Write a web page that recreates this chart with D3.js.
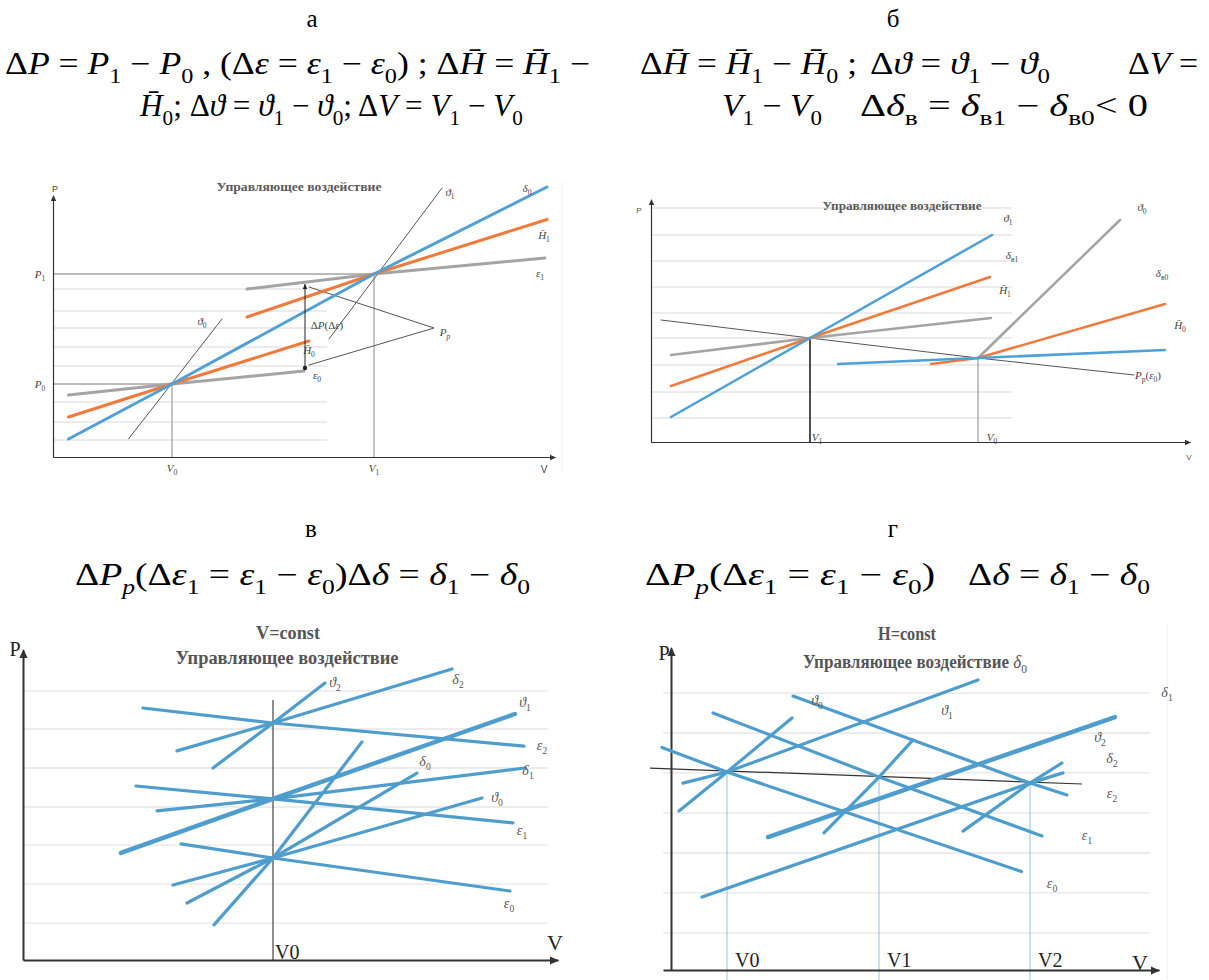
<!DOCTYPE html>
<html>
<head>
<meta charset="utf-8">
<script src="https://cdnjs.cloudflare.com/ajax/libs/d3/7.8.5/d3.min.js"></script>
<style>
  body { margin: 0; background: #fff; }
</style>
</head>
<body>
<svg id="fig" width="1209" height="980"></svg>
<script>
// All values are in relative units: V and P run 0..100 along each panel's axes.

// ---- panel а
const aGrid = [67.2, 58.4, 51.6, 44, 36.4, 22, 14, 6.8];
const aV = [23.8, 64.2];   // V0, V1
const aP = [29.2, 73.2];   // P0, P1
const aLines = [
    {kind: 'thin', pts: [[15.1, 7.2], [33.8, 55.2]]},
    {kind: 'thin', pts: [[55.2, 47.2], [77.8, 107.6]]},
    {kind: 'thin', pts: [[51.2, 68], [76.2, 51.6], [51.2, 36.8]]},
    {kind: 'gray', pts: [[3.1, 24.8], [23.8, 29.2], [50.2, 34.4]]},
    {kind: 'gray', pts: [[38.8, 67.2], [64.2, 73.2], [98.4, 79.6]]},
    {kind: 'orange', pts: [[3.1, 16], [23.8, 29.2], [51.2, 46.4]]},
    {kind: 'orange', pts: [[38.8, 56], [64.2, 73.2], [98.8, 95]]},
    {kind: 'blue', pts: [[3.1, 7.2], [23.8, 29.2], [64.2, 73.2], [98.8, 108]]}
];
const aDeltaP = [50.4, 35.6, 69.2];   // V, P from, P to
const aLabels = [
    {t: '*δ*_0', v: 94.8, p: 107.6}, {t: '*ϑ*_1', v: 79.4, p: 106},
    {t: '*H̄*_1', v: 98.2, p: 88.8}, {t: '*ε*_1', v: 97.4, p: 73.6},
    {t: '*ϑ*_0', v: 29.8, p: 54.4}, {t: 'Δ*P*(Δ*ε*)', v: 54.8, p: 52.8},
    {t: '*P*_{*p*}', v: 78.4, p: 50}, {t: '*H̄*_0', v: 51.2, p: 42.8},
    {t: '*ε*_0', v: 52.8, p: 32.8}, {t: '*P*_1', v: -2.6, p: 73.2},
    {t: '*P*_0', v: -2.6, p: 29.2}, {t: '*V*_0', v: 23.8, p: -4.6},
    {t: '*V*_1', v: 64.2, p: -4.6}
];

// ---- panel б
const bGrid = [93.6, 82.8, 72.4, 62, 51.6, 41.6, 30.8, 20, 9.6];
const bV = [31.8, 65.4];   // V1, V0
const bP = [41.6, 33.6];
const bLines = [
    {kind: 'thin', pts: [[2, 48.8], [31.8, 41.6], [65.4, 33.6], [96.6, 26.8]]},
    {kind: 'gray', pts: [[4, 34.8], [31.8, 41.6], [68, 49.6]]},
    {kind: 'gray', pts: [[65.4, 33.6], [93.8, 88.8]]},
    {kind: 'orange', pts: [[4, 22.4], [31.8, 41.6], [67.8, 66]]},
    {kind: 'orange', pts: [[56, 31.2], [65.4, 33.6], [102.8, 55.2]]},
    {kind: 'blue', pts: [[4, 10], [31.8, 41.6], [68.2, 82.8]]},
    {kind: 'blue', pts: [[37.4, 31.2], [65.4, 33.6], [102.8, 36.8]]}
];
const bLabels = [
    {t: '*ϑ*_1', v: 71.4, p: 89.6}, {t: '*δ*_{в1}', v: 72.2, p: 74.8},
    {t: '*H̄*_1', v: 70.8, p: 60.8}, {t: '*ϑ*_0', v: 98.2, p: 94},
    {t: '*δ*_{в0}', v: 102.2, p: 67.6}, {t: '*H̄*_0', v: 105.8, p: 46.8},
    {t: '*P*_p(*ε*_0)', v: 96.8, p: 26.8, anchor: 'start'},
    {t: '*V*_1', v: 33.2, p: 2}, {t: '*V*_0', v: 68.2, p: 2}
];

// ---- panel в
const cGrid = [89.7, 77, 64, 51, 38.3, 25.3, 12.3];
const cV0 = 50;
const cLines = [
    {kind: 'b', pts: [[24, 84], [50, 79], [100.2, 71.3]]},
    {kind: 'b', pts: [[30.8, 69.7], [50, 79], [85.8, 97]]},
    {kind: 'b', pts: [[38, 64], [50, 79], [60.4, 92.3]]},
    {kind: 'b', pts: [[22.6, 58], [50, 53.7], [98, 45.7]]},
    {kind: 'b', pts: [[26.8, 49.7], [50, 53.7], [100.4, 64]]},
    {kind: 'bt', pts: [[19.6, 35.7], [50, 53.7], [98.4, 82]]},
    {kind: 'b', pts: [[31.6, 38.7], [50, 34], [97.4, 23]]},
    {kind: 'b', pts: [[30, 25], [50, 34], [91.8, 54]]},
    {kind: 'b', pts: [[32.8, 19], [50, 34], [78.8, 62.3]]},
    {kind: 'b', pts: [[38.2, 11.7], [50, 34], [67.8, 72.7]]}
];
const cLabels = [
    {t: '*ϑ*_2', v: 62.4, p: 92.7}, {t: '*δ*_2', v: 87, p: 93.7},
    {t: '*ϑ*_1', v: 100.4, p: 86}, {t: '*ε*_2', v: 103.8, p: 71.7},
    {t: '*δ*_1', v: 101, p: 63.3}, {t: '*δ*_0', v: 80.4, p: 66.3},
    {t: '*ϑ*_0', v: 94.8, p: 54.3}, {t: '*ε*_1', v: 99.8, p: 43.3},
    {t: '*ε*_0', v: 97.2, p: 19}
];

// ---- panel г
const dGrid = [92.3, 79, 65.7, 52.3, 39, 25.7, 12.3];
const dV = [11.2, 41.6, 71.8];
const dP = [66, 64.3, 62.3];
const dBase = [[-4.2, 67.3], [82.2, 62]];
const dLines = [
    {kind: 'b', pts: [[24.4, 91.3], [71.8, 62.3], [79.2, 58.3]]},
    {kind: 'b', pts: [[2.4, 62.3], [11.2, 66], [61.4, 96.7]]},
    {kind: 'b', pts: [[8.4, 85.7], [41.6, 64.3], [74.2, 44.7]]},
    {kind: 'b', pts: [[-1.8, 74.2], [11.2, 66], [70.1, 32.8]]},
    {kind: 'bt', pts: [[19.4, 44.3], [88.8, 84.3]]},
    {kind: 'b', pts: [[6.2, 24.3], [71.8, 62.3], [78.4, 65.7]]},
    {kind: 'b', pts: [[1.6, 53], [11.2, 66], [24.2, 84]]},
    {kind: 'b', pts: [[30.6, 45.7], [41.6, 64.3], [48.4, 76.7]]},
    {kind: 'b', pts: [[58.4, 46.3], [71.8, 62.3], [78.2, 69]]}
];
const dLabels = [
    {t: '*δ*_1', v: 99.2, p: 92.7}, {t: '*ϑ*_0', v: 29.2, p: 90},
    {t: '*ϑ*_1', v: 55.2, p: 86.7}, {t: '*ϑ*_2', v: 85.8, p: 77.7},
    {t: '*δ*_2', v: 88.2, p: 70.7}, {t: '*ε*_2', v: 88.2, p: 59},
    {t: '*ε*_1', v: 83.2, p: 45}, {t: '*ε*_0', v: 76.2, p: 29}
];
const dVNames = ['V0', 'V1', 'V2'];

const kinds = {
    thin: {c: '#555', w: 1},
    gray: {c: '#a4a4a4', w: 3},
    orange: {c: '#f07a3c', w: 3},
    blue: {c: '#4ea0d6', w: 3},
    b: {c: '#4e9dcc', w: 3.2},
    bt: {c: '#4e9dcc', w: 4.4}
};

const serif = "'Liberation Serif', 'DejaVu Serif', serif";
const svg = d3.select('#fig');

// small markup: *x* italic, _1 or _{..} subscript
function rich(t, str, fs) {
    const toks = [];
    let it = false, buf = '', i = 0;
    const flush = () => { if (buf) toks.push({s: buf, it: it, sub: false}); buf = ''; };
    while (i < str.length) {
        const ch = str[i];
        if (ch === '*') { flush(); it = !it; i++; }
        else if (ch === '_') {
            flush();
            let s;
            if (str[i + 1] === '{') { const j = str.indexOf('}', i); s = str.slice(i + 2, j); i = j + 1; }
            else { s = str[i + 1]; i += 2; }
            toks.push({s: s.replace(/\*/g, ''), it: s.startsWith('*'), sub: true});
        } else { buf += ch; i++; }
    }
    flush();
    let prev = false;
    toks.forEach(k => {
        const ts = t.append('tspan').text(k.s);
        if (k.it) ts.attr('font-style', 'italic').attr('font-weight', 'normal');
        if (k.sub) {
            ts.attr('font-size', fs * 0.68).attr('font-weight', 'normal');
            if (!prev) ts.attr('dy', fs * 0.28);
        } else if (prev) ts.attr('dy', -fs * 0.28);
        prev = k.sub;
    });
    return t;
}

function text(g, x, y, str, o) {
    const fs = o.fs || 12;
    const t = g.append('text')
        .attr('x', x).attr('y', y)
        .attr('font-family', o.family || serif)
        .attr('font-size', fs)
        .attr('font-weight', o.weight || 'normal')
        .attr('fill', o.fill || '#000')
        .attr('text-anchor', o.anchor || 'start')
        .style('white-space', 'pre');
    rich(t, str, fs);
    if (o.len) t.attr('textLength', o.len).attr('lengthAdjust', 'spacingAndGlyphs');
    return t;
}

function arrowHead(g, x, y, dir, s, c) {
    const p = dir === 'up'
        ? `M${x},${y}L${x - s * 0.45},${y + s}L${x + s * 0.45},${y + s}Z`
        : `M${x},${y}L${x - s},${y - s * 0.45}L${x - s},${y + s * 0.45}Z`;
    g.append('path').attr('d', p).attr('fill', c);
}

function axes(g, x, y, xr, yr, st) {
    const xa = d3.scaleLinear(xr, xr.map(x));
    const ya = d3.scaleLinear(yr, yr.map(y));
    g.append('g').attr('transform', `translate(0,${y(0)})`)
        .call(d3.axisBottom(xa).tickValues([]).tickSizeOuter(0))
        .call(s => s.select('.domain').attr('stroke', st.c).attr('stroke-width', st.w));
    g.append('g').attr('transform', `translate(${x(0)},0)`)
        .call(d3.axisLeft(ya).tickValues([]).tickSizeOuter(0))
        .call(s => s.select('.domain').attr('stroke', st.c).attr('stroke-width', st.w));
    arrowHead(g, x(xr[1]) + 1, y(0) + 0.5, 'right', st.a, st.c);
    arrowHead(g, x(0) + 0.5, y(yr[1]) - 1, 'up', st.a, st.c);
}

function grid(g, x, y, levels, from, to) {
    g.selectAll(null).data(levels).join('line')
        .attr('x1', x(from)).attr('x2', x(to))
        .attr('y1', d => y(d)).attr('y2', d => y(d))
        .attr('stroke', '#e6e6e6').attr('stroke-width', 1.4);
}

function lines(g, x, y, data, widthScale) {
    const line = d3.line().x(d => x(d[0])).y(d => y(d[1]));
    g.selectAll(null).data(data).join('path')
        .attr('d', d => line(d.pts))
        .attr('fill', 'none')
        .attr('stroke', d => kinds[d.kind].c)
        .attr('stroke-width', d => kinds[d.kind].w * (d.kind === 'thin' ? 1 : widthScale))
        .attr('stroke-linecap', 'round');
}

function seg(g, x1, y1, x2, y2, c, w) {
    g.append('line').attr('x1', x1).attr('y1', y1).attr('x2', x2).attr('y2', y2)
        .attr('stroke', c).attr('stroke-width', w);
}

function labels(g, x, y, data, fs, fill) {
    data.forEach(d => text(g, x(d.v), y(d.p) + fs * 0.35, d.t,
        {fs: fs, fill: fill, anchor: d.anchor || 'middle'}));
}

// ---------- headings
const head = svg.append('g');
text(head, 312, 27, 'а', {fs: 25, anchor: 'middle'});
text(head, 893, 27, 'б', {fs: 25, anchor: 'middle'});
text(head, 311, 537, 'в', {fs: 25, anchor: 'middle'});
text(head, 893, 537, 'г', {fs: 25, anchor: 'middle'});
const hf = 31;
text(head, 5, 74, 'Δ*P* = *P*_1 − *P*_0 , (Δ*ε* = *ε*_1 − *ε*_0) ; Δ*H̄* = *H̄*_1 −', {fs: hf, len: 585});
text(head, 140, 116, '*H̄*_0; Δ*ϑ* = *ϑ*_1 − *ϑ*_0; Δ*V* = *V*_1 − *V*_0', {fs: hf, len: 383});
text(head, 640, 74, 'Δ*H̄* = *H̄*_1 − *H̄*_0 ;', {fs: hf, len: 217});
text(head, 870, 74, 'Δ*ϑ* = *ϑ*_1 − *ϑ*_0', {fs: hf, len: 180});
text(head, 1128, 74, 'Δ*V* =', {fs: hf, len: 70});
text(head, 722, 116, '*V*_1 − *V*_0', {fs: hf, len: 100});
text(head, 860, 116, 'Δ*δ*_в = *δ*_{в1} − *δ*_{в0}< 0', {fs: hf, len: 288});
text(head, 75, 585, 'Δ*P*_{*p*}(Δ*ε*_1 = *ε*_1 − *ε*_0)Δ*δ* = *δ*_1 − *δ*_0', {fs: hf, len: 455});
text(head, 645, 585, 'Δ*P*_{*p*}(Δ*ε*_1 = *ε*_1 − *ε*_0)', {fs: hf, len: 290});
text(head, 968, 585, 'Δ*δ* = *δ*_1 − *δ*_0', {fs: hf, len: 182});

// ---------- panel а
{
    const x = d3.scaleLinear([0, 100], [53, 553]);
    const y = d3.scaleLinear([0, 100], [457, 207]);
    const g = svg.append('g');
    g.append('line').attr('x1', x(101.8)).attr('x2', x(101.8)).attr('y1', y(110)).attr('y2', y(-6))
        .attr('stroke', '#eee').attr('stroke-width', 1);
    grid(g, x, y, aGrid, 0, 54.8);
    seg(g, x(0), y(aP[1]), x(aV[1]), y(aP[1]), '#777', 1);
    seg(g, x(0), y(aP[0]), x(aV[0]), y(aP[0]), '#777', 1);
    seg(g, x(aV[0]), y(aP[0]), x(aV[0]), y(0), '#aaa', 1.4);
    seg(g, x(aV[1]), y(aP[1]), x(aV[1]), y(0), '#888', 1);
    axes(g, x, y, [0, 100.4], [0, 104.4], {c: '#333', w: 1.2, a: 6});
    lines(g, x, y, aLines, 1);
    // ΔP marker
    seg(g, x(aDeltaP[0]), y(aDeltaP[1]), x(aDeltaP[0]), y(aDeltaP[2]), '#222', 1);
    arrowHead(g, x(aDeltaP[0]), y(aDeltaP[2]), 'up', 5, '#222');
    g.append('circle').attr('cx', x(aDeltaP[0])).attr('cy', y(aDeltaP[1])).attr('r', 2.2).attr('fill', '#222');
    labels(g, x, y, aLabels, 11, '#444');
    text(g, x(0.4), y(107.2) + 3, 'P', {fs: 9, family: 'Arial, sans-serif', fill: '#444', anchor: 'middle'});
    text(g, x(98.2), y(-4.6) + 4, 'V', {fs: 10, family: 'Arial, sans-serif', fill: '#444', anchor: 'middle'});
    text(g, x(49.2), y(108) + 4, 'Управляющее воздействие',
        {fs: 12, weight: 'bold', fill: '#5a5a5a', anchor: 'middle', len: 165});
}

// ---------- panel б
{
    const x = d3.scaleLinear([0, 100], [651, 1151]);
    const y = d3.scaleLinear([0, 100], [442, 192]);
    const g = svg.append('g');
    grid(g, x, y, bGrid, 0, 72.2);
    seg(g, x(bV[0]), y(bP[0]), x(bV[0]), y(0), '#222', 1.6);
    seg(g, x(bV[1]), y(bP[1]), x(bV[1]), y(0), '#888', 1);
    axes(g, x, y, [0, 107.8], [0, 96.8], {c: '#333', w: 1.2, a: 6});
    lines(g, x, y, bLines, 0.85);
    labels(g, x, y, bLabels, 11, '#444');
    text(g, x(-2.4), y(92.8) + 3, 'P', {fs: 8, family: 'Arial, sans-serif', fill: '#555', anchor: 'middle'});
    text(g, x(107.6), y(-6) + 3, 'V', {fs: 8, family: 'Arial, sans-serif', fill: '#555', anchor: 'middle'});
    text(g, x(50.2), y(94.4) + 4, 'Управляющее воздействие',
        {fs: 12, weight: 'bold', fill: '#5a5a5a', anchor: 'middle', len: 159});
}

// ---------- panel в
{
    const x = d3.scaleLinear([0, 100], [23, 523]);
    const y = d3.scaleLinear([0, 100], [960, 660]);
    const g = svg.append('g');
    grid(g, x, y, cGrid, 0, 105);
    seg(g, x(cV0), y(86.7), x(cV0), y(0), '#444', 1.2);
    axes(g, x, y, [0, 107], [0, 103.3], {c: '#333', w: 2, a: 9});
    lines(g, x, y, cLines, 1);
    labels(g, x, y, cLabels, 14, '#555');
    text(g, x(cV0) + 2, y(2.7) + 7, 'V0', {fs: 20, fill: '#222'});
    text(g, x(-1.6), y(103.7) + 7, 'P', {fs: 20, fill: '#222', anchor: 'middle'});
    text(g, x(106.4), y(5.7) + 7, 'V', {fs: 22, fill: '#222', anchor: 'middle'});
    text(g, x(53), y(109) + 6, 'V=const', {fs: 18, weight: 'bold', fill: '#555', anchor: 'middle', len: 64});
    text(g, x(52.8), y(100.7) + 6, 'Управляющее воздействие',
        {fs: 18, weight: 'bold', fill: '#555', anchor: 'middle', len: 223});
}

// ---------- panel г
{
    const x = d3.scaleLinear([0, 100], [671, 1171]);
    const y = d3.scaleLinear([0, 100], [970, 670]);
    const g = svg.append('g');
    g.append('line').attr('x1', x(99.2)).attr('x2', x(99.2)).attr('y1', y(115)).attr('y2', y(-3))
        .attr('stroke', '#eee').attr('stroke-width', 1);
    grid(g, x, y, dGrid, -1.6, 95.8);
    dV.forEach((v, i) => seg(g, x(v), y(dP[i]), x(v), y(-3.3), '#8ec3e3', 1));
    axes(g, x, y, [-1.6, 97.6], [0, 107.3], {c: '#333', w: 2, a: 9});
    g.append('path').attr('d', d3.line().x(d => x(d[0])).y(d => y(d[1]))(dBase))
        .attr('stroke', '#333').attr('stroke-width', 1.2).attr('fill', 'none');
    lines(g, x, y, dLines, 1);
    labels(g, x, y, dLabels, 14, '#555');
    dV.forEach((v, i) => text(g, x(v) + 8, y(3.3) + 7, dVNames[i], {fs: 20, fill: '#222'}));
    text(g, x(-1.4), y(105.7) + 7, 'P', {fs: 20, fill: '#222', anchor: 'middle'});
    text(g, x(93.8), y(2.3) + 7, 'V', {fs: 22, fill: '#222', anchor: 'middle'});
    text(g, x(47.2), y(112) + 6, 'H=const', {fs: 18, weight: 'bold', fill: '#555', anchor: 'middle', len: 58});
    text(g, x(48.8), y(102.7) + 6, 'Управляющее воздействие *δ*_0',
        {fs: 18, weight: 'bold', fill: '#555', anchor: 'middle', len: 224});
}
</script>
</body>
</html>
